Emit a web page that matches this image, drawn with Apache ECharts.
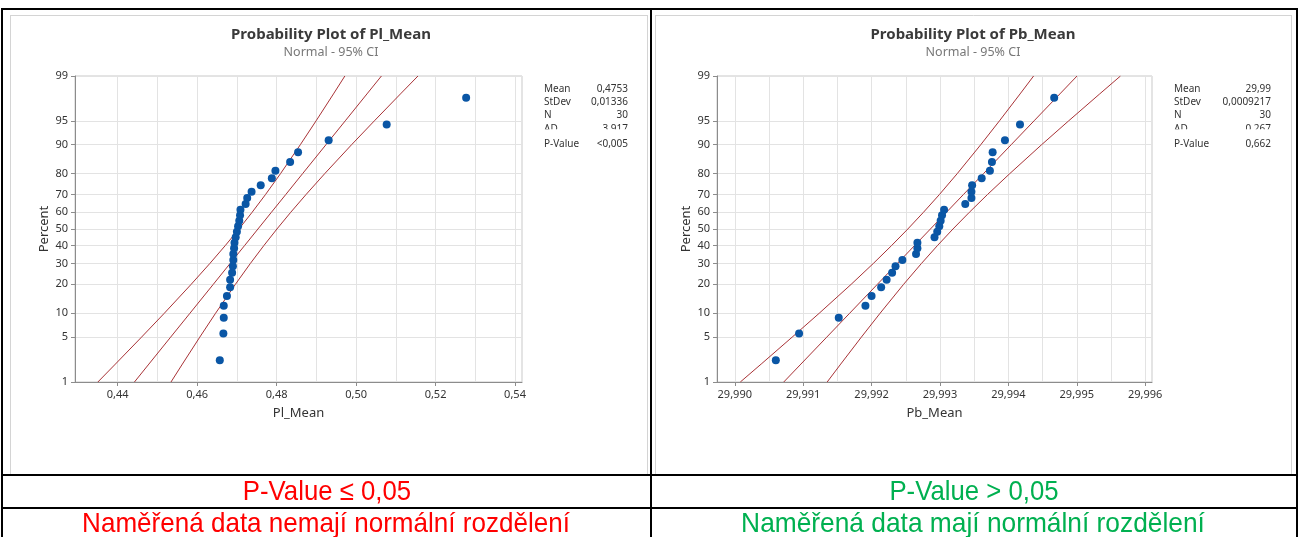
<!DOCTYPE html>
<html>
<head>
<meta charset="utf-8">
<script src="https://cdn.jsdelivr.net/npm/echarts@6/dist/echarts.min.js"></script>
<style>html,body{margin:0;padding:0;background:#fff;}#c{width:1299px;height:537px;}</style>
</head>
<body>
<div id="c"></div>
<script>
// ---------- data ----------
// plotting positions (percent) of the 30 ranked observations
const rankPercent = [2.30, 5.59, 8.88, 12.17, 15.46, 18.75, 22.04, 25.33, 28.62, 31.91, 35.20, 38.49, 41.78, 45.07, 48.36,
  51.64, 54.93, 58.22, 61.51, 64.80, 68.09, 71.38, 74.67, 77.96, 81.25, 84.54, 87.83, 91.12, 94.41, 97.70];
const plValues = [0.4657, 0.4666, 0.4667, 0.4667, 0.4675, 0.4683, 0.4683, 0.4688, 0.4690, 0.4691, 0.4691, 0.4693, 0.4694, 0.4697, 0.4700,
  0.4703, 0.4706, 0.4708, 0.4709, 0.4722, 0.4726, 0.4737, 0.4760, 0.4788, 0.4797, 0.4834, 0.4854, 0.4931, 0.5077, 0.5277];
const pbValues = [29.99060, 29.99094, 29.99152, 29.99191, 29.99200, 29.99214, 29.99222, 29.99230, 29.99235, 29.99245, 29.99265, 29.99267, 29.99267, 29.99292, 29.99296,
  29.99299, 29.99301, 29.99303, 29.99306, 29.99337, 29.99346, 29.99346, 29.99347, 29.99361, 29.99373, 29.99376, 29.99377, 29.99395, 29.99417, 29.99467];

// fitted line and 95% CI, x value at each percent level
const linePercent = [1, 2, 5, 10, 20, 30, 40, 50, 60, 70, 80, 90, 95, 98, 99];
const plFit   = [0.44422, 0.44786, 0.45332, 0.45818, 0.46406, 0.46829, 0.47192, 0.47530, 0.47868, 0.48231, 0.48654, 0.49242, 0.49728, 0.50274, 0.50638];
const plLower = [0.43502, 0.43943, 0.44599, 0.45173, 0.45849, 0.46320, 0.46706, 0.47052, 0.47383, 0.47721, 0.48098, 0.48597, 0.48994, 0.49431, 0.49718];
const plUpper = [0.45342, 0.45629, 0.46066, 0.46463, 0.46962, 0.47339, 0.47677, 0.48008, 0.48354, 0.48741, 0.49211, 0.49887, 0.50461, 0.51117, 0.51558];
const pbFit   = [29.990716, 29.990967, 29.991344, 29.991679, 29.992084, 29.992377, 29.992627, 29.992860, 29.993094, 29.993343, 29.993636, 29.994041, 29.994376, 29.994753, 29.995004];
const pbLower = [29.990081, 29.990386, 29.990838, 29.991234, 29.991701, 29.992025, 29.992291, 29.992530, 29.992758, 29.992992, 29.993252, 29.993596, 29.993870, 29.994171, 29.994369];
const pbUpper = [29.991351, 29.991549, 29.991850, 29.992124, 29.992468, 29.992729, 29.992962, 29.993190, 29.993429, 29.993695, 29.994020, 29.994486, 29.994882, 29.995335, 29.995639];

// tick labels
const percentTicks = [1, 5, 10, 20, 30, 40, 50, 60, 70, 80, 90, 95, 99];
const plXTicks = [0.44, 0.46, 0.48, 0.50, 0.52, 0.54];
const plXGrid  = [0.44, 0.45, 0.46, 0.47, 0.48, 0.49, 0.50, 0.51, 0.52, 0.53, 0.54];
const pbXTicks = [29.990, 29.991, 29.992, 29.993, 29.994, 29.995, 29.996];
const pbXGrid  = [29.9900, 29.9905, 29.9910, 29.9915, 29.9920, 29.9925, 29.9930, 29.9935, 29.9940, 29.9945, 29.9950, 29.9955, 29.9960];

// stats tables
const plStats = [['Mean', '0,4753'], ['StDev', '0,01336'], ['N', '30'], ['AD', '3,917'], ['P-Value', '<0,005']];
const pbStats = [['Mean', '29,99'], ['StDev', '0,0009217'], ['N', '30'], ['AD', '0,267'], ['P-Value', '0,662']];

// ---------- normal probability scale (inverse normal CDF) ----------
function probit(p) {
  const a = [-3.969683028665376e+01, 2.209460984245205e+02, -2.759285104469687e+02, 1.383577518672690e+02, -3.066479806614716e+01, 2.506628277459239e+00];
  const b = [-5.447609879822406e+01, 1.615858368580409e+02, -1.556989798598866e+02, 6.680131188771972e+01, -1.328068155288572e+01];
  const c = [-7.784894002430293e-03, -3.223964580411365e-01, -2.400758277161838e+00, -2.549732539343734e+00, 4.374664141464968e+00, 2.938163982698783e+00];
  const d = [7.784695709041462e-03, 3.224671290700398e-01, 2.445134137142996e+00, 3.754408661907416e+00];
  const pl = 0.02425;
  let q, r;
  if (p < pl) {
    q = Math.sqrt(-2 * Math.log(p));
    return (((((c[0]*q+c[1])*q+c[2])*q+c[3])*q+c[4])*q+c[5]) / ((((d[0]*q+d[1])*q+d[2])*q+d[3])*q+1);
  }
  if (p <= 1 - pl) {
    q = p - 0.5; r = q * q;
    return (((((a[0]*r+a[1])*r+a[2])*r+a[3])*r+a[4])*r+a[5])*q / (((((b[0]*r+b[1])*r+b[2])*r+b[3])*r+b[4])*r+1);
  }
  q = Math.sqrt(-2 * Math.log(1 - p));
  return -(((((c[0]*q+c[1])*q+c[2])*q+c[3])*q+c[4])*q+c[5]) / ((((d[0]*q+d[1])*q+d[2])*q+d[3])*q+1);
}
const zTicks = percentTicks.map(p => probit(p / 100));
const zMin = zTicks[0], zMax = zTicks[zTicks.length - 1];
function pctLabel(v) {
  let bi = 0, bd = Infinity;
  zTicks.forEach((z, i) => { const dd = Math.abs(z - v); if (dd < bd) { bd = dd; bi = i; } });
  return String(percentTicks[bi]);
}

const FONT = '"Noto Sans", "Open Sans", sans-serif';
const AXIS_C = '#8C8C8C';
const GRID_C = '#E3E3E3';
const TXT = '#333333';
const DOT = '#0A56A5';
const LINE_C = '#A83236';

function panel(g, cfg) {
  const xa = [
    {
      type: 'value', gridIndex: g, min: cfg.xmin, max: cfg.xmax, position: 'bottom',
      axisLine: { show: true, onZero: false, lineStyle: { color: AXIS_C, width: 1 } },
      axisTick: { show: true, length: 4, customValues: cfg.xTicks, lineStyle: { color: AXIS_C } },
      axisLabel: { customValues: cfg.xTicks, formatter: v => v.toFixed(cfg.dec).replace('.', ','),
        fontSize: 11, color: TXT, margin: 7, fontFamily: FONT, showMinLabel: true, showMaxLabel: true },
      splitLine: { show: false },
      name: cfg.name, nameLocation: 'middle', nameGap: 25,
      nameTextStyle: { fontSize: 13, color: TXT, fontFamily: FONT }
    },
    {
      type: 'value', gridIndex: g, min: cfg.xmin, max: cfg.xmax, position: 'bottom',
      axisLine: { show: false }, axisLabel: { show: false },
      axisTick: { show: false, customValues: cfg.xGrid },
      splitLine: { show: true, lineStyle: { color: GRID_C, width: 1 } }
    }
  ];
  const ya = {
    type: 'value', gridIndex: g, min: zMin, max: zMax,
    axisLine: { show: true, lineStyle: { color: AXIS_C, width: 1 } },
    axisTick: { show: true, length: 4, customValues: zTicks, lineStyle: { color: AXIS_C } },
    axisLabel: { customValues: zTicks, formatter: pctLabel, fontSize: 11, color: TXT, margin: 7,
      fontFamily: FONT, showMinLabel: true, showMaxLabel: true },
    splitLine: { show: true, lineStyle: { color: GRID_C, width: 1 } },
    name: 'Percent', nameLocation: 'middle', nameGap: 24, nameRotate: 90,
    nameTextStyle: { fontSize: 13, color: TXT, fontFamily: FONT }
  };
  const xi = g * 2;
  const mkLine = arr => ({
    type: 'line', xAxisIndex: xi, yAxisIndex: g, symbol: 'none', silent: true, z: 2,
    lineStyle: { color: LINE_C, width: 1 },
    data: linePercent.map((p, i) => [arr[i], probit(p / 100)])
  });
  const series = [
    mkLine(cfg.lower), mkLine(cfg.fit), mkLine(cfg.upper),
    {
      type: 'scatter', xAxisIndex: xi, yAxisIndex: g, symbolSize: 8, z: 3,
      itemStyle: { color: DOT, opacity: 1 },
      data: cfg.values.map((v, i) => [v, probit(rankPercent[i] / 100)])
    }
  ];
  return { xa, ya, series };
}

const P1 = panel(0, { xmin: 0.42926, xmax: 0.54176, xTicks: plXTicks, xGrid: plXGrid, dec: 2, name: 'Pl_Mean',
  values: plValues, fit: plFit, lower: plLower, upper: plUpper });
const P2 = panel(1, { xmin: 29.98974, xmax: 29.99610, xTicks: pbXTicks, xGrid: pbXGrid, dec: 3, name: 'Pb_Mean',
  values: pbValues, fit: pbFit, lower: pbLower, upper: pbUpper });

// ---------- graphic: table, titles, stats ----------
const graphics = [];
function hline(x1, x2, y, w, c) { graphics.push({ type: 'line', silent: true, z: 20, shape: { x1, y1: y, x2, y2: y }, style: { stroke: c, lineWidth: w } }); }
function vline(x, y1, y2, w, c) { graphics.push({ type: 'line', silent: true, z: 20, shape: { x1: x, y1, x2: x, y2 }, style: { stroke: c, lineWidth: w } }); }
function text(t, x, y, opt) {
  graphics.push({ type: 'text', silent: true, z: opt.z || 20, x, y, scaleX: opt.sx || 1,
    style: { text: t, x: 0, y: 0, align: opt.align || 'center', verticalAlign: 'middle',
      fontSize: opt.size, fontFamily: opt.family || FONT, fontWeight: opt.weight || 'normal', fill: opt.color || TXT } });
}

// panel frames (light gray)
vline(10.5, 15, 475, 1, '#D4D4D4'); vline(647.5, 15, 475, 1, '#D4D4D4'); hline(10, 648, 15.5, 1, '#D4D4D4');
vline(655.5, 15, 475, 1, '#D4D4D4'); vline(1291.5, 15, 475, 1, '#D4D4D4'); hline(655, 1292, 15.5, 1, '#D4D4D4');

// table borders (black)
hline(1, 1298, 9, 2, '#000'); hline(1, 1298, 475, 2, '#000'); hline(1, 1298, 508, 2, '#000');
vline(2, 8, 537, 2, '#000'); vline(651, 8, 537, 2, '#000'); vline(1297, 8, 537, 2, '#000');

// titles
text('Probability Plot of Pl_Mean', 331, 35, { size: 15, weight: 'bold', color: '#3A3A3A' });
text('Normal - 95% CI', 331, 52, { size: 12.5, color: '#777777' });
text('Probability Plot of Pb_Mean', 973, 35, { size: 15, weight: 'bold', color: '#3A3A3A' });
text('Normal - 95% CI', 973, 52, { size: 12.5, color: '#777777' });

// stats boxes
function stats(rows, xl, xr) {
  const ys = [89, 102.3, 115.6, 128.9, 144.3];
  rows.forEach((r, i) => {
    text(r[0], xl, ys[i], { size: 10, align: 'left', z: i === 4 ? 24 : 21 });
    text(r[1], xr, ys[i], { size: 10, align: 'right', z: i === 4 ? 24 : 21 });
  });
  graphics.push({ type: 'rect', silent: true, z: 23, shape: { x: xl - 4, y: 129.2, width: xr - xl + 8, height: 8.5 }, style: { fill: '#fff' } });
}
stats(plStats, 544, 628);
stats(pbStats, 1174, 1271);

// verdict rows
const VF = '"Liberation Sans", Arial, sans-serif';
text('P-Value \u2264 0,05', 327, 492, { size: 28, sx: 0.92, family: VF, color: '#FF0000' });
text('Naměřená data nemají normální rozdělení', 326, 524, { size: 28, sx: 0.93, family: VF, color: '#FF0000' });
text('P-Value > 0,05', 974, 492, { size: 28, sx: 0.92, family: VF, color: '#00B050' });
text('Naměřená data mají normální rozdělení', 973, 524, { size: 28, sx: 0.94, family: VF, color: '#00B050' });

const option = {
  animation: false,
  backgroundColor: '#ffffff',
  textStyle: { fontFamily: FONT },
  grid: [
    { left: 75, top: 76, width: 447, height: 306, show: true, borderColor: '#C9C9C9', borderWidth: 1, backgroundColor: 'transparent', containLabel: false },
    { left: 717, top: 76, width: 435, height: 306, show: true, borderColor: '#C9C9C9', borderWidth: 1, backgroundColor: 'transparent', containLabel: false }
  ],
  xAxis: [...P1.xa, ...P2.xa],
  yAxis: [P1.ya, P2.ya],
  series: [...P1.series, ...P2.series],
  graphic: { elements: graphics }
};

const chart = echarts.init(document.getElementById('c'), null, { renderer: 'canvas' });
chart.setOption(option);
</script>
</body>
</html>
